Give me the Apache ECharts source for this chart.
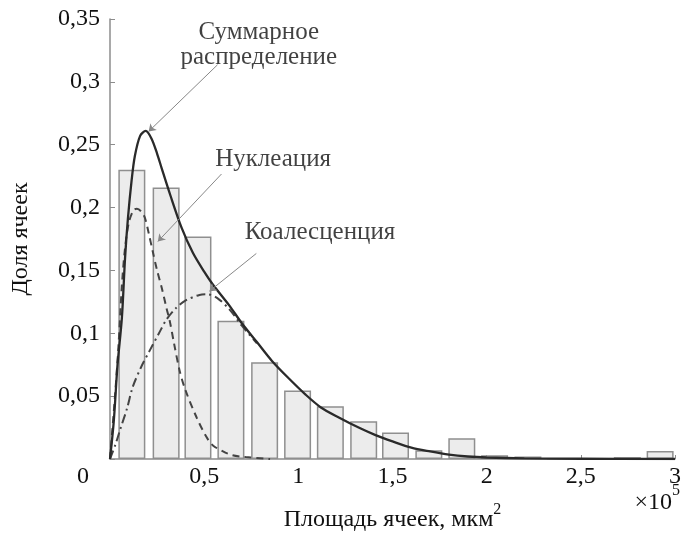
<!DOCTYPE html>
<html><head><meta charset="utf-8">
<script src="https://cdn.jsdelivr.net/npm/echarts@6/dist/echarts.min.js"></script>
<style>html,body{margin:0;padding:0;background:#fff}#c{width:684px;height:537px}</style>
</head><body><div id="c"></div>
<script>
// Histogram bin centres (×10^5 мкм²) and shares
const binCenters = [0.116,0.298,0.467,0.642,0.821,0.996,1.170,1.347,1.516,1.693,1.868,2.042,2.219,2.393,2.567,2.747,2.921];
const binShares  = [0.230,0.216,0.177,0.110,0.077,0.0545,0.042,0.030,0.021,0.007,0.0166,0.003,0.002,0,0,0.0015,0.0063];

// Суммарное распределение
const totalCurve = [[0,0],[0.02,0.03],[0.04,0.075],[0.063,0.112],[0.08,0.16],[0.095,0.191],[0.115,0.222],[0.132,0.241],[0.16,0.257],[0.19,0.261],[0.22,0.255],[0.25,0.243],[0.275,0.231],[0.32,0.21],[0.38,0.184],[0.44,0.164],[0.5,0.149],[0.545,0.139],[0.634,0.122],[0.70,0.108],[0.78,0.093],[0.86,0.078],[0.95,0.064],[1.04,0.051],[1.12,0.041],[1.215,0.033],[1.32,0.025],[1.41,0.019],[1.5,0.014],[1.6,0.009],[1.7,0.006],[1.8,0.0035],[1.9,0.002],[2.0,0.0012],[2.2,0.0005],[2.5,0.0002],[3.0,0]];
// Нуклеация
const nucleationCurve = [[0,0],[0.026,0.049],[0.045,0.09],[0.063,0.138],[0.08,0.168],[0.1,0.188],[0.125,0.198],[0.143,0.199],[0.165,0.197],[0.185,0.192],[0.205,0.18],[0.227,0.165],[0.25,0.15],[0.275,0.136],[0.3,0.12],[0.317,0.11],[0.34,0.092],[0.37,0.07],[0.4,0.055],[0.46,0.033],[0.51,0.018],[0.545,0.011],[0.6,0.006],[0.65,0.003],[0.72,0.0015],[0.85,0]];
// Коалесценция
const coalescenceCurve = [[0,0],[0.03,0.012],[0.053,0.023],[0.09,0.04],[0.12,0.057],[0.165,0.073],[0.21,0.086],[0.26,0.1],[0.3,0.111],[0.35,0.12],[0.4,0.126],[0.475,0.1305],[0.52,0.131],[0.57,0.128],[0.634,0.119],[0.70,0.106],[0.78,0.092]];

// Annotations (data coordinates)
const annotationTexts = [
  {name:'Суммарное\nраспределение', value:[0.79,0.329]},
  {name:'Нуклеация', value:[0.866,0.238]},
  {name:'Коалесценция', value:[1.115,0.180]}
];
const annotationArrows = [
  [[0.571,0.3136],[0.205,0.2605]],
  [[0.592,0.2267],[0.254,0.173]],
  [[0.777,0.1635],[0.528,0.1335]]
];

const xTicks = [0,0.5,1,1.5,2,2.5,3];
const yTicks = [0,0.05,0.1,0.15,0.2,0.25,0.3,0.35];

const FONT = "'Liberation Serif','Times New Roman',serif";
const chart = echarts.init(document.getElementById('c'));
chart.setOption({
  animation:false,
  backgroundColor:'#fff',
  grid:{left:110,right:6,top:19,bottom:75},
  xAxis:{
    type:'value', min:xTicks[0], max:xTicks[xTicks.length-1], interval:0.5,
    axisLine:{lineStyle:{color:'#8c8c8c',width:1.5}},
    axisTick:{show:true,inside:true,length:4,lineStyle:{color:'#8c8c8c'}},
    splitLine:{show:false},
    axisLabel:{color:'#111',fontFamily:FONT,fontSize:24,margin:6,
      formatter:v=> v===0 ? '{z|0}' : String(+v.toFixed(2)).replace('.',','),
      rich:{z:{fontFamily:FONT,fontSize:24,color:'#111',padding:[0,54,0,0]}}},
    name:'{a|Площадь ячеек, мкм}{s|2}', nameLocation:'middle', nameGap:43,
    nameTextStyle:{rich:{a:{fontFamily:FONT,fontSize:24,color:'#111',lineHeight:30,verticalAlign:'bottom'},
                         s:{fontFamily:FONT,fontSize:16,color:'#111',verticalAlign:'top'}}}
  },
  yAxis:{
    type:'value', min:yTicks[0], max:yTicks[yTicks.length-1], interval:0.05,
    axisLine:{show:true,lineStyle:{color:'#8c8c8c',width:1.5}},
    axisTick:{show:true,inside:true,length:5,lineStyle:{color:'#8c8c8c'}},
    splitLine:{show:false},
    axisLabel:{color:'#111',fontFamily:FONT,fontSize:24,margin:10,
      formatter:v=> v===0 ? '' : String(+v.toFixed(2)).replace('.',',')},
    name:'Доля ячеек', nameLocation:'middle', nameGap:77,
    nameTextStyle:{fontFamily:FONT,fontSize:24,color:'#111'}
  },
  graphic:[{type:'text', right:4, top:483,
    style:{text:'{a|×10}{b|5}',
      rich:{a:{fontFamily:FONT,fontSize:24,fill:'#111',lineHeight:32,verticalAlign:'bottom'},
            b:{fontFamily:FONT,fontSize:16,fill:'#111',verticalAlign:'top'}}}}],
  series:[
    {type:'bar', data:binCenters.map((c,i)=>[c,binShares[i]]), barWidth:27,
     itemStyle:{color:'#ececec',borderColor:'#8f8f8f',borderWidth:1.5}, z:1},
    {type:'line', data:coalescenceCurve, showSymbol:false, smooth:0.3,
     lineStyle:{color:'#444',width:2,type:[9,4,2,4]}, z:3},
    {type:'line', data:nucleationCurve, showSymbol:false, smooth:0.3,
     lineStyle:{color:'#444',width:2,type:[7,5]}, z:3},
    {type:'line', data:totalCurve, showSymbol:false, smooth:0.3,
     lineStyle:{color:'#2a2a2a',width:2.3}, z:4},
    {type:'lines', coordinateSystem:'cartesian2d', polyline:false,
     data:annotationArrows.map(a=>({coords:a})),
     symbol:['none','arrow'], symbolSize:7,
     lineStyle:{color:'#888',width:1,opacity:1}, z:5},
    {type:'scatter', data:annotationTexts, symbolSize:0,
     label:{show:true,position:'inside',formatter:'{b}',fontFamily:FONT,fontSize:25,color:'#111',lineHeight:25,align:'center'},
     z:6}
  ]
});
</script></body></html>
